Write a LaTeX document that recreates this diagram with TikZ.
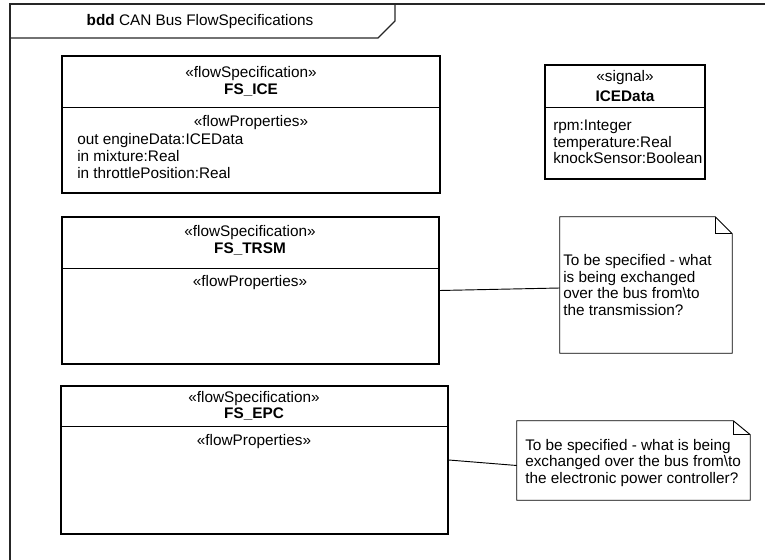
\documentclass[tikz,border=0pt]{standalone}
\usepackage{fontspec}
\setmainfont{Liberation Sans}
\usetikzlibrary{positioning, fit}

\begin{document}
\begin{tikzpicture}[
    x=0.75pt, y=-0.75pt,
    every node/.style={font=\fontsize{11.5}{12.4}\selectfont, inner sep=0pt},
    block/.style={rectangle, draw, line width=1.1pt, inner sep=0pt},
    notebox/.style={rectangle, inner sep=0pt},
    name_s/.style={font=\fontsize{11.5}{12.4}\selectfont\bfseries},
    props/.style={anchor=west, align=left},
    divider/.style={line width=0.7pt},
    frame/.style={line width=0.8pt, draw=black!85},
    link/.style={line width=0.7pt},
]
\useasboundingbox (0,0) rectangle (765,560);

% Frame and header tab
\draw[frame] (10,575) -- (10,4) -- (780,4);
\draw[frame] (10,38) -- (378,38) -- (395,21) -- (395,4);
\node (title) at (200,22) {\textbf{bdd} CAN Bus FlowSpecifications};

% FS_ICE
\node[block, fit={(62,56) (440,193)}] (ice) {};
\draw[divider] (ice.west |- 0,107) -- (ice.east |- 0,107);
\node (ice_st) at (251,74) {«flowSpecification»};
\node[name_s] (ice_name) at (251,90) {FS\_ICE};
\node (ice_fp) at (251,123) {«flowProperties»};
\node[props] (ice_props) at (77,156) {out engineData:ICEData\\in mixture:Real\\in throttlePosition:Real};

% ICEData signal
\node[block, fit={(545,65) (705,179)}] (icedata) {};
\draw[divider] (icedata.west |- 0,107) -- (icedata.east |- 0,107);
\node (icedata_st) at (625,78) {«signal»};
\node[name_s] (icedata_name) at (625,96) {ICEData};
\node[props] (icedata_props) at (553,142) {rpm:Integer\\temperature:Real\\knockSensor:Boolean};

% FS_TRSM
\node[block, fit={(62,217) (439,364)}] (trsm) {};
\draw[divider] (trsm.west |- 0,268) -- (trsm.east |- 0,268);
\node (trsm_st) at (250,233) {«flowSpecification»};
\node[name_s] (trsm_name) at (250,249) {FS\_TRSM};
\node (trsm_fp) at (250,283) {«flowProperties»};

% FS_EPC
\node[block, fit={(61,386) (448,534)}] (epc) {};
\draw[divider] (epc.west |- 0,426) -- (epc.east |- 0,426);
\node (epc_st) at (254,399) {«flowSpecification»};
\node[name_s] (epc_name) at (254,414) {FS\_EPC};
\node (epc_fp) at (254,442) {«flowProperties»};

% Notes
\node[notebox, fit={(560,217) (732,353)}] (trsmnote) {};
\draw[link] (trsmnote.north west) -- ([xshift=-12.75pt]trsmnote.north east)
    -- ([yshift=-12.75pt]trsmnote.north east) -- (trsmnote.south east)
    -- (trsmnote.south west) -- cycle;
\draw[link] ([xshift=-12.75pt]trsmnote.north east) |- ([yshift=-12.75pt]trsmnote.north east);
\node[props] (trsmnote_txt) at (563,285) {To be specified - what\\is being exchanged\\over the bus from\textbackslash to\\the transmission?};

\node[notebox, fit={(517,421) (750,500)}] (epcnote) {};
\draw[link] (epcnote.north west) -- ([xshift=-12.75pt]epcnote.north east)
    -- ([yshift=-10.5pt]epcnote.north east) -- (epcnote.south east)
    -- (epcnote.south west) -- cycle;
\draw[link] ([xshift=-12.75pt]epcnote.north east) |- ([yshift=-10.5pt]epcnote.north east);
\node[props] (epcnote_txt) at (525,463) {To be specified - what is being\\exchanged over the bus from\textbackslash to\\the electronic power controller?};

% Anchors
\draw[link] (trsm.east) -- ([yshift=-2.25pt]trsmnote.west);
\draw[link] (epc.east) -- ([yshift=-3.75pt]epcnote.west);

\end{tikzpicture}
\end{document}
